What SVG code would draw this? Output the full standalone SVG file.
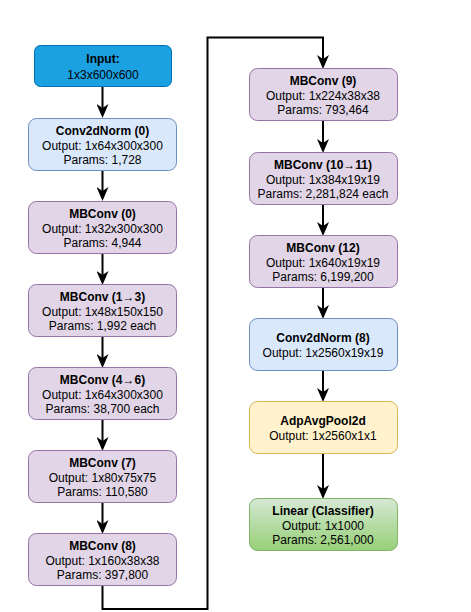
<svg xmlns="http://www.w3.org/2000/svg" width="471" height="612" viewBox="0 0 471 612">
<style>
text{font-family:"Liberation Sans",Arial,sans-serif;font-size:12px;fill:#000;text-anchor:middle}
.b{font-weight:bold}
.mb{fill:#e1d5e7;stroke:#9673a6}
.cn{fill:#dae8fc;stroke:#6c8ebf}
.in{fill:#1ba1e2;stroke:#006eaf}
.pl{fill:#fff2cc;stroke:#d6b656}
.ln{fill:url(#g);stroke:#82b366}
.e{fill:none;stroke:#000;stroke-width:2;marker-end:url(#a)}
.l{fill:none;stroke:#000;stroke-width:2}
</style>
<defs>
<linearGradient id="g" x1="0" y1="0" x2="0" y2="1"><stop offset="0" stop-color="#d5e8d4"/><stop offset="1" stop-color="#97d077"/></linearGradient>
<marker id="a" markerUnits="userSpaceOnUse" markerWidth="14" markerHeight="12" viewBox="0 0 14 12" refX="5" refY="6" orient="auto"><path d="M0,0 L14,6 L0,12 L4,6 z" fill="#000"/></marker>
</defs>
<rect width="471" height="612" fill="#fff"/>
<g id="connectors">
<path class="e" d="M102.5,87 V109"/>
<path class="e" d="M102.5,170 V192"/>
<path class="e" d="M102.5,253 V276"/>
<path class="e" d="M102.5,337 V359"/>
<path class="e" d="M102.5,420 V442"/>
<path class="e" d="M102.5,503 V525"/>
<path class="e" d="M102.5,586 V609 H207.5 V37.5 H323 V60"/>
<path class="e" d="M323,121 V144"/>
<path class="e" d="M323,205 V227"/>
<path class="e" d="M323,288 V310"/>
<path class="e" d="M323,371 V393"/>
<path class="e" d="M323,454 V490"/>
</g>
<g id="input"><rect class="in" x="34.5" y="45.5" width="137" height="41" rx="6"/><text class="b" x="103" y="63">Input:</text><text x="103" y="78.5">1x3x600x600</text></g>
<g id="conv2dnorm0"><rect class="cn" x="28.5" y="118.5" width="148" height="52" rx="8"/><text class="b" x="102.5" y="135">Conv2dNorm (0)</text><text x="102.5" y="149.5">Output: 1x64x300x300</text><text x="102.5" y="164">Params: 1,728</text></g>
<g id="mbconv0"><rect class="mb" x="28.5" y="201.5" width="148" height="52" rx="8"/><text class="b" x="102.5" y="218">MBConv (0)</text><text x="102.5" y="232.5">Output: 1x32x300x300</text><text x="102.5" y="247">Params: 4,944</text></g>
<g id="mbconv1_3"><rect class="mb" x="28.5" y="284.5" width="148" height="52" rx="8"/><text class="b" x="102.5" y="301">MBConv (1→3)</text><text x="102.5" y="315.5">Output: 1x48x150x150</text><text x="102.5" y="330">Params: 1,992 each</text></g>
<g id="mbconv4_6"><rect class="mb" x="28.5" y="367.5" width="148" height="52" rx="8"/><text class="b" x="102.5" y="384">MBConv (4→6)</text><text x="102.5" y="398.5">Output: 1x64x300x300</text><text x="102.5" y="413">Params: 38,700 each</text></g>
<g id="mbconv7"><rect class="mb" x="28.5" y="450.5" width="148" height="52" rx="8"/><text class="b" x="102.5" y="467">MBConv (7)</text><text x="102.5" y="481.5">Output: 1x80x75x75</text><text x="102.5" y="496">Params: 110,580</text></g>
<g id="mbconv8"><rect class="mb" x="28.5" y="533.5" width="148" height="52" rx="8"/><text class="b" x="102.5" y="550">MBConv (8)</text><text x="102.5" y="564.5">Output: 1x160x38x38</text><text x="102.5" y="579">Params: 397,800</text></g>
<g id="mbconv9"><rect class="mb" x="249.5" y="68.5" width="148" height="52" rx="8"/><text class="b" x="323" y="85">MBConv (9)</text><text x="323" y="99.5">Output: 1x224x38x38</text><text x="323" y="114">Params: 793,464</text></g>
<g id="mbconv10_11"><rect class="mb" x="249.5" y="152.5" width="148" height="52" rx="8"/><text class="b" x="323" y="169">MBConv (10→11)</text><text x="323" y="183.5">Output: 1x384x19x19</text><text x="323" y="198">Params: 2,281,824 each</text></g>
<g id="mbconv12"><rect class="mb" x="249.5" y="235.5" width="148" height="52" rx="8"/><text class="b" x="323" y="252">MBConv (12)</text><text x="323" y="266.5">Output: 1x640x19x19</text><text x="323" y="281">Params: 6,199,200</text></g>
<g id="conv2dnorm8"><rect class="cn" x="249.5" y="318.5" width="148" height="52" rx="8"/><text class="b" x="323" y="342">Conv2dNorm (8)</text><text x="323" y="357">Output: 1x2560x19x19</text></g>
<g id="adpavgpool"><rect class="pl" x="249.5" y="401.5" width="148" height="52" rx="8"/><text class="b" x="323" y="425">AdpAvgPool2d</text><text x="323" y="440">Output: 1x2560x1x1</text></g>
<g id="linear"><rect class="ln" x="249.5" y="498.5" width="148" height="52" rx="8"/><text class="b" x="323" y="515">Linear (Classifier)</text><text x="323" y="529.5">Output: 1x1000</text><text x="323" y="544">Params: 2,561,000</text></g>
</svg>
